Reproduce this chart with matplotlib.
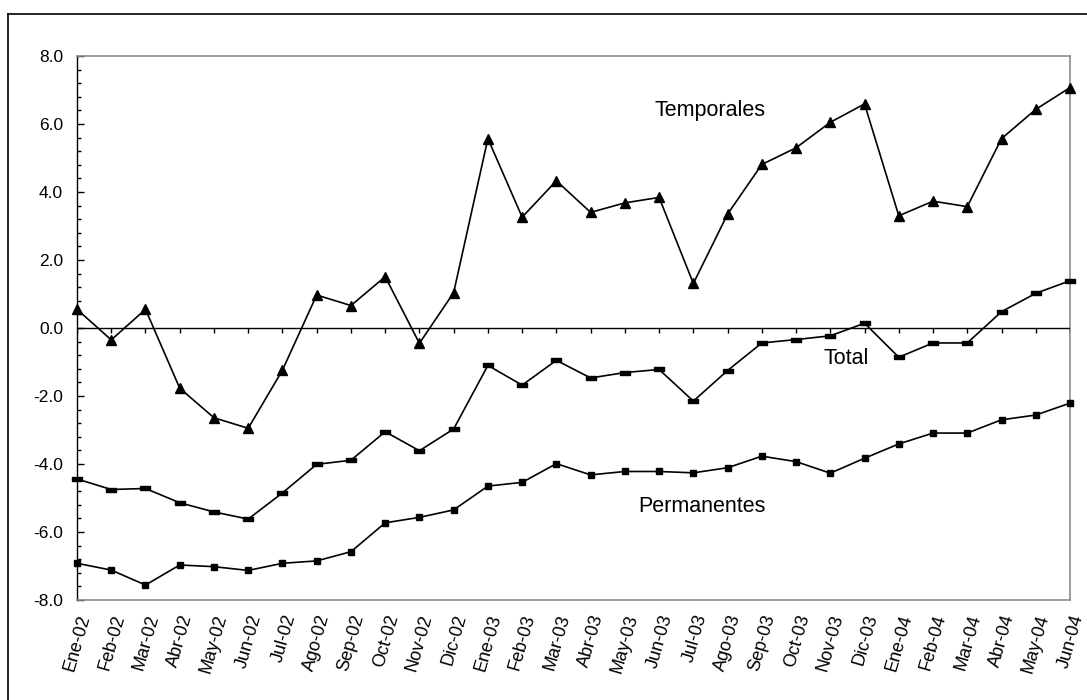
import matplotlib
matplotlib.use("Agg")
import matplotlib.pyplot as plt
from matplotlib.lines import Line2D
from matplotlib.ticker import MultipleLocator, FormatStrFormatter
import numpy as np

plt.rcParams['font.family'] = ['Liberation Sans', 'DejaVu Sans']

months = ["Ene-02", "Feb-02", "Mar-02", "Abr-02", "May-02", "Jun-02", "Jul-02", "Ago-02",
          "Sep-02", "Oct-02", "Nov-02", "Dic-02", "Ene-03", "Feb-03", "Mar-03", "Abr-03",
          "May-03", "Jun-03", "Jul-03", "Ago-03", "Sep-03", "Oct-03", "Nov-03", "Dic-03",
          "Ene-04", "Feb-04", "Mar-04", "Abr-04", "May-04", "Jun-04"]

temporales = [0.55, -0.35, 0.55, -1.77, -2.64, -2.95, -1.24, 0.97, 0.66, 1.51,
              -0.45, 1.04, 5.57, 3.26, 4.33, 3.40, 3.68, 3.84, 1.31, 3.35,
              4.81, 5.30, 6.05, 6.59, 3.30, 3.73, 3.57, 5.57, 6.43, 7.07]

total = [-4.44, -4.75, -4.72, -5.14, -5.41, -5.62, -4.85, -4.01, -3.89, -3.05,
         -3.61, -2.97, -1.10, -1.68, -0.95, -1.47, -1.31, -1.22, -2.15, -1.25,
         -0.44, -0.34, -0.23, 0.14, -0.86, -0.44, -0.44, 0.48, 1.02, 1.39]

permanentes = [-6.92, -7.12, -7.56, -6.97, -7.02, -7.13, -6.92, -6.85, -6.58, -5.73,
               -5.57, -5.35, -4.65, -4.54, -3.99, -4.32, -4.22, -4.22, -4.26, -4.11,
               -3.77, -3.93, -4.27, -3.83, -3.41, -3.09, -3.09, -2.70, -2.56, -2.21]

fig = plt.figure(figsize=(10.87, 7.0), dpi=100)
ax = fig.add_axes([77/1087, 1-600/700, (1070-77)/1087, (600-56)/700])

x = np.arange(len(months))

dash_marker = [(-1, -0.35), (1, -0.35), (1, 0.35), (-1, 0.35), (-1, -0.35)]

ax.plot(x, temporales, color='black', lw=1.2, marker='^', ms=7, clip_on=False, zorder=5)
ax.plot(x, total, color='black', lw=1.2, marker=dash_marker, ms=7, clip_on=False, zorder=5)
ax.plot(x, permanentes, color='black', lw=1.2, marker='s', ms=5, clip_on=False, zorder=5)

# zero line with tick marks
ax.axhline(0, color='black', lw=1.0, zorder=3)
ax.vlines(x, -0.15, 0, color='black', lw=1.0, zorder=3)

ax.set_xlim(0, len(months) - 1)
ax.set_ylim(-8, 8)
ax.yaxis.set_major_locator(MultipleLocator(2))
ax.yaxis.set_minor_locator(MultipleLocator(0.4))
ax.yaxis.set_major_formatter(FormatStrFormatter('%.1f'))
ax.tick_params(axis='y', which='major', direction='in', length=5, width=1, labelsize=12.5, pad=10)
ax.tick_params(axis='y', which='minor', direction='in', length=3, width=1)

ax.set_xticks(x)
ax.set_xticklabels(months, rotation=74, ha='right', rotation_mode='anchor', fontsize=13)
ax.tick_params(axis='x', which='major', length=0, pad=9)

for side in ['top', 'right', 'bottom']:
    ax.spines[side].set_color('#8c8c8c')
    ax.spines[side].set_linewidth(1.2)
ax.spines['left'].set_color('black')
ax.spines['left'].set_linewidth(1.0)

ax.text(18.5, 6.4, "Temporales", fontsize=15.5, ha='center', va='center')
ax.text(22.45, -0.9, "Total", fontsize=15.5, ha='center', va='center')
ax.text(18.25, -5.25, "Permanentes", fontsize=15.5, ha='center', va='center')

# outer frame (left and top visible)
fig.add_artist(Line2D([8/1087, 8/1087], [0, 1-14/700], transform=fig.transFigure, color='black', lw=1.2))
fig.add_artist(Line2D([8/1087, 1], [1-14/700, 1-14/700], transform=fig.transFigure, color='black', lw=1.2))

fig.savefig("out.png", dpi=100)
